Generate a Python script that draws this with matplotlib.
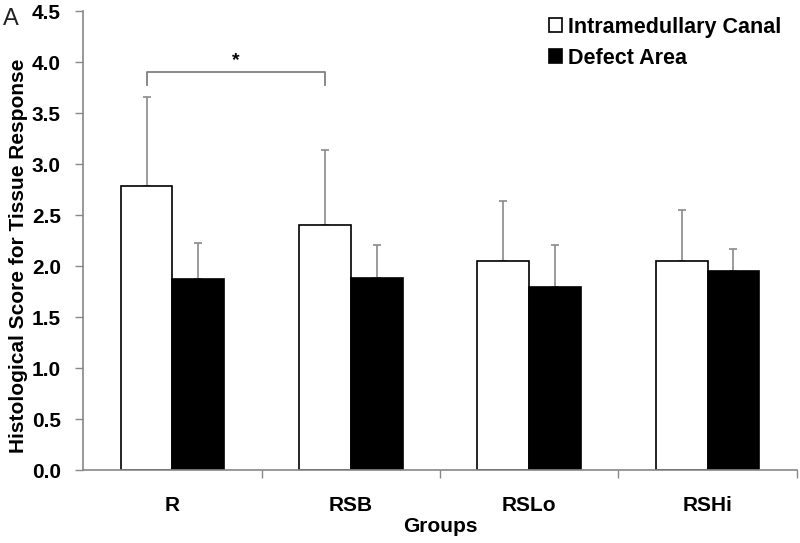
import matplotlib
matplotlib.use("Agg")
import matplotlib.pyplot as plt
import numpy as np

plt.rcParams['font.family'] = ['Liberation Sans', 'DejaVu Sans']

groups = ["R", "RSB", "RSLo", "RSHi"]
canal = [2.78, 2.40, 2.05, 2.05]
canal_err = [0.88, 0.74, 0.59, 0.50]
defect = [1.87, 1.88, 1.79, 1.95]
defect_err = [0.36, 0.33, 0.42, 0.22]

fig = plt.figure(figsize=(8, 5.43), dpi=100)
ax = fig.add_axes([0.104, 0.1344, 0.892, 0.8453])

x = np.arange(len(groups))
w = 0.29
ax.bar(x - w / 2, canal, w, color="white", edgecolor="black", linewidth=1.2,
       label="Intramedullary Canal", zorder=2)
ax.bar(x + w / 2, defect, w, color="black", edgecolor="black", linewidth=1.2,
       label="Defect Area", zorder=2)
ax.errorbar(x - w / 2, canal, yerr=[np.zeros(4), canal_err], fmt="none",
            ecolor="#8a8a8a", elinewidth=1.2, capsize=3, capthick=1.2, zorder=1)
ax.errorbar(x + w / 2, defect, yerr=[np.zeros(4), defect_err], fmt="none",
            ecolor="#8a8a8a", elinewidth=1.2, capsize=3, capthick=1.2, zorder=1)

# significance bracket
bx0, bx1 = x[0] - w / 2, x[1] - w / 2
ax.plot([bx0, bx0, bx1, bx1], [3.77, 3.9, 3.9, 3.77], color="#808080", lw=1.3)
ax.text((bx0 + bx1) / 2, 3.93, "*", ha="center", va="bottom", fontsize=14,
        fontweight="bold")

ax.set_xlim(-0.5, 3.5)
ax.set_ylim(0, 4.5)
ax.set_yticks(np.arange(0, 4.51, 0.5))
ax.set_yticklabels([f"{v:.1f}" for v in np.arange(0, 4.51, 0.5)],
                   fontsize=15, fontweight="bold")
ax.set_xticks(x)
ax.set_xticklabels(groups, fontsize=15, fontweight="bold")
ax.set_xticks([0.5, 1.5, 2.5, 3.5], minor=True)
ax.tick_params(axis="x", which="major", length=0, pad=19)
ax.tick_params(axis="x", which="minor", length=6, color="#888888", width=1)
ax.tick_params(axis="y", length=6, color="#888888", width=1, pad=10)

for s in ["top", "right"]:
    ax.spines[s].set_visible(False)
for s in ["left", "bottom"]:
    ax.spines[s].set_color("#888888")
    ax.spines[s].set_linewidth(1.2)

ax.set_xlabel("Groups", fontsize=15, fontweight="bold", va="center")
ax.xaxis.set_label_coords(0.5, -0.122)
ax.set_ylabel("Histological Score for Tissue Response", fontsize=15,
              fontweight="bold", va="center")
ax.yaxis.set_label_coords(-0.091, 0.466)

ax.legend(loc="upper right", frameon=False, handlelength=0.6,
          handleheight=0.6, handletextpad=0.3, labelspacing=0.45,
          prop={"weight": "bold", "size": 15.5}, bbox_to_anchor=(1.0, 1.02),
          borderpad=0.2)

fig.text(0.004, 0.985, "A", fontsize=17, va="top", ha="left",
         color="#222222")

fig.savefig("out.png", dpi=100)
